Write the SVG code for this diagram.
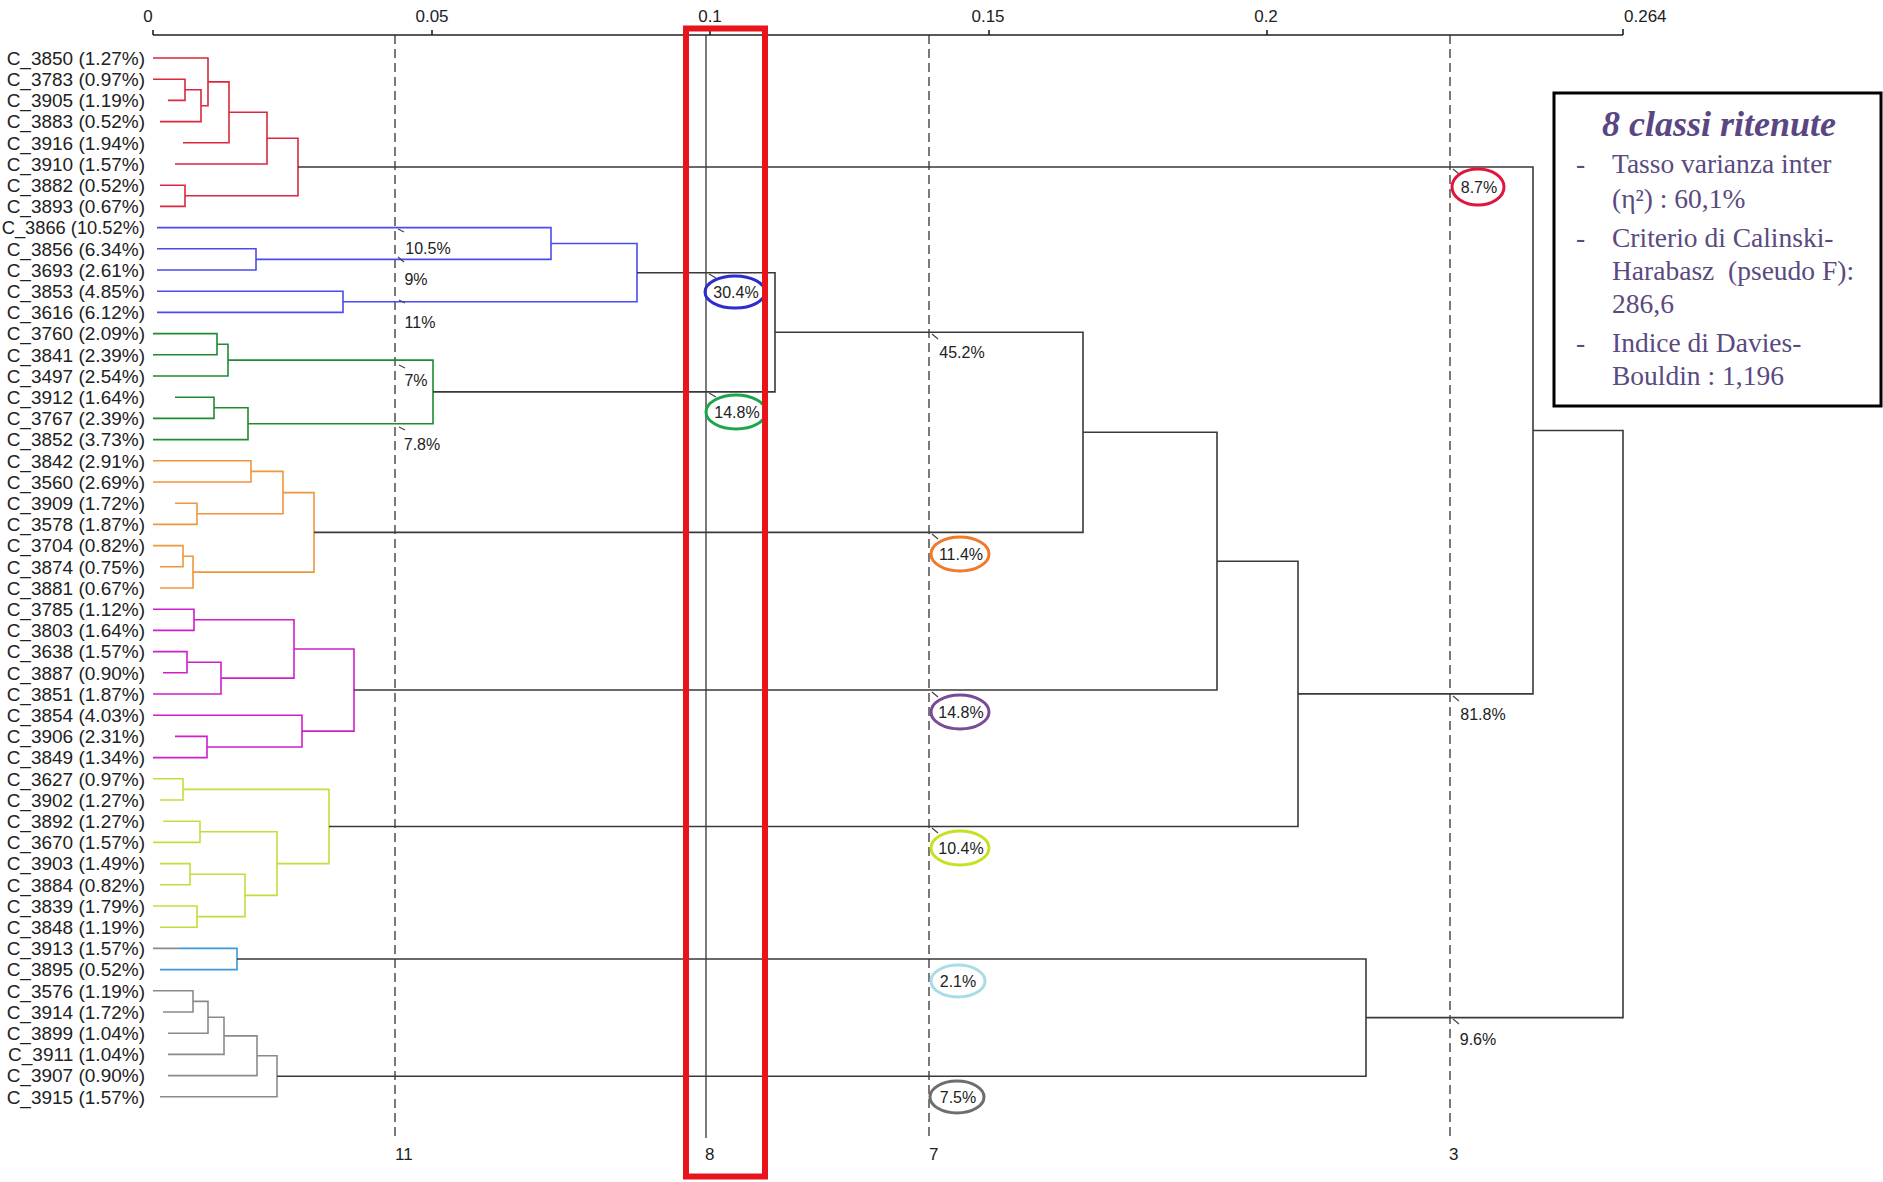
<svg xmlns="http://www.w3.org/2000/svg" width="1883" height="1182" viewBox="0 0 1883 1182">
<style>
.lbl{font-family:"Liberation Sans",Arial,sans-serif;font-size:19px;fill:#222;text-anchor:end}
.ax{font-family:"Liberation Sans",Arial,sans-serif;font-size:17px;fill:#222}
.pct{font-family:"Liberation Sans",Arial,sans-serif;font-size:16px;fill:#222;text-anchor:middle}
.t{fill:none;stroke-width:1.6;stroke-linejoin:miter}
.red{stroke:#d9283c}.blue{stroke:#4b4bf2}.green{stroke:#1f8a33}.orange{stroke:#f0963e}
.mag{stroke:#cf1fc9}.yg{stroke:#c6dc3c}.lb{stroke:#3c98d8}.gray{stroke:#8a8a8a}.blk{stroke:#3a3a3a}
.cut{stroke:#333;stroke-width:1.3;stroke-dasharray:9 5;fill:none}
.ptr{stroke:#444;stroke-width:1.2;fill:none}
.leg{font-family:"Liberation Serif","Times New Roman",serif;font-size:27.5px;fill:#5a4a80}
</style>
<rect width="1883" height="1182" fill="#fff"/>

<!-- axis -->
<g id="axis">
<path d="M153 35 H1623 M153 30 V35 M432 30 V35 M710 30 V35 M989 30 V35 M1267 30 V35 M1623 29 V35" stroke="#222" stroke-width="1.6" fill="none"/>
<text class="ax" x="148" y="22" text-anchor="middle">0</text>
<text class="ax" x="432" y="22" text-anchor="middle">0.05</text>
<text class="ax" x="710" y="22" text-anchor="middle">0.1</text>
<text class="ax" x="988" y="22" text-anchor="middle">0.15</text>
<text class="ax" x="1266" y="22" text-anchor="middle">0.2</text>
<text class="ax" x="1624" y="22">0.264</text>
</g>

<!-- cut lines -->
<g id="cuts">
<path class="cut" d="M395 35 V1140 M929 35 V1140 M1450 35 V1140"/>
<path d="M706 35 V1138" stroke="#333" stroke-width="1.3" fill="none"/>
<text class="ax" x="395" y="1160">11</text>
<text class="ax" x="705" y="1160">8</text>
<text class="ax" x="929" y="1160">7</text>
<text class="ax" x="1449" y="1160">3</text>
</g>

<!-- leaves -->
<g id="leaves">
<g id="n0"><text class="lbl" x="145" y="64.7">C_3850 (1.27%)</text></g>
<g id="n1"><text class="lbl" x="145" y="85.9">C_3783 (0.97%)</text></g>
<g id="n2"><text class="lbl" x="145" y="107.1">C_3905 (1.19%)</text></g>
<g id="n3"><text class="lbl" x="145" y="128.3">C_3883 (0.52%)</text></g>
<g id="n4"><text class="lbl" x="145" y="149.5">C_3916 (1.94%)</text></g>
<g id="n5"><text class="lbl" x="145" y="170.7">C_3910 (1.57%)</text></g>
<g id="n6"><text class="lbl" x="145" y="191.9">C_3882 (0.52%)</text></g>
<g id="n7"><text class="lbl" x="145" y="213.1">C_3893 (0.67%)</text></g>
<g id="n8"><text class="lbl" x="145" y="234.3" style="font-size:18.3px">C_3866 (10.52%)</text></g>
<g id="n9"><text class="lbl" x="145" y="255.5">C_3856 (6.34%)</text></g>
<g id="n10"><text class="lbl" x="145" y="276.7">C_3693 (2.61%)</text></g>
<g id="n11"><text class="lbl" x="145" y="297.9">C_3853 (4.85%)</text></g>
<g id="n12"><text class="lbl" x="145" y="319.1">C_3616 (6.12%)</text></g>
<g id="n13"><text class="lbl" x="145" y="340.3">C_3760 (2.09%)</text></g>
<g id="n14"><text class="lbl" x="145" y="361.5">C_3841 (2.39%)</text></g>
<g id="n15"><text class="lbl" x="145" y="382.7">C_3497 (2.54%)</text></g>
<g id="n16"><text class="lbl" x="145" y="403.9">C_3912 (1.64%)</text></g>
<g id="n17"><text class="lbl" x="145" y="425.1">C_3767 (2.39%)</text></g>
<g id="n18"><text class="lbl" x="145" y="446.3">C_3852 (3.73%)</text></g>
<g id="n19"><text class="lbl" x="145" y="467.5">C_3842 (2.91%)</text></g>
<g id="n20"><text class="lbl" x="145" y="488.7">C_3560 (2.69%)</text></g>
<g id="n21"><text class="lbl" x="145" y="509.9">C_3909 (1.72%)</text></g>
<g id="n22"><text class="lbl" x="145" y="531.1">C_3578 (1.87%)</text></g>
<g id="n23"><text class="lbl" x="145" y="552.3">C_3704 (0.82%)</text></g>
<g id="n24"><text class="lbl" x="145" y="573.5">C_3874 (0.75%)</text></g>
<g id="n25"><text class="lbl" x="145" y="594.7">C_3881 (0.67%)</text></g>
<g id="n26"><text class="lbl" x="145" y="615.9">C_3785 (1.12%)</text></g>
<g id="n27"><text class="lbl" x="145" y="637.1">C_3803 (1.64%)</text></g>
<g id="n28"><text class="lbl" x="145" y="658.3">C_3638 (1.57%)</text></g>
<g id="n29"><text class="lbl" x="145" y="679.5">C_3887 (0.90%)</text></g>
<g id="n30"><text class="lbl" x="145" y="700.7">C_3851 (1.87%)</text></g>
<g id="n31"><text class="lbl" x="145" y="721.9">C_3854 (4.03%)</text></g>
<g id="n32"><text class="lbl" x="145" y="743.1">C_3906 (2.31%)</text></g>
<g id="n33"><text class="lbl" x="145" y="764.3">C_3849 (1.34%)</text></g>
<g id="n34"><text class="lbl" x="145" y="785.5">C_3627 (0.97%)</text></g>
<g id="n35"><text class="lbl" x="145" y="806.7">C_3902 (1.27%)</text></g>
<g id="n36"><text class="lbl" x="145" y="827.9">C_3892 (1.27%)</text></g>
<g id="n37"><text class="lbl" x="145" y="849.1">C_3670 (1.57%)</text></g>
<g id="n38"><text class="lbl" x="145" y="870.3">C_3903 (1.49%)</text></g>
<g id="n39"><text class="lbl" x="145" y="891.5">C_3884 (0.82%)</text></g>
<g id="n40"><text class="lbl" x="145" y="912.7">C_3839 (1.79%)</text></g>
<g id="n41"><text class="lbl" x="145" y="933.9">C_3848 (1.19%)</text></g>
<g id="n42"><text class="lbl" x="145" y="955.1">C_3913 (1.57%)</text></g>
<g id="n43"><text class="lbl" x="145" y="976.3">C_3895 (0.52%)</text></g>
<g id="n44"><text class="lbl" x="145" y="997.5">C_3576 (1.19%)</text></g>
<g id="n45"><text class="lbl" x="145" y="1018.7">C_3914 (1.72%)</text></g>
<g id="n46"><text class="lbl" x="145" y="1039.9">C_3899 (1.04%)</text></g>
<g id="n47"><text class="lbl" x="145" y="1061.1">C_3911 (1.04%)</text></g>
<g id="n48"><text class="lbl" x="145" y="1082.3">C_3907 (0.90%)</text></g>
<g id="n49"><text class="lbl" x="145" y="1103.5">C_3915 (1.57%)</text></g>
</g>

<!-- connectors (dendrogram branches) -->
<g id="connectors">
<path class="t red" d="M153 58 H208 V105.7 H201 M153 79.2 H185 V100.4 H168 M185 89.8 H201 V121.6 H160 M208 81.9 H229 V142.8 H183 M229 112.3 H267 V164 H175 M160 185.2 H185 V206.4 H160 M267 138.2 H298 V195.8 H185"/>
<path class="t blue" d="M157 227.6 H551 V259.4 H256 M157 248.8 H256 V270 H157 M551 243.5 H637 V301.8 H343 M157 291.2 H343 V312.4 H157"/>
<path class="t green" d="M153 333.6 H217 V354.8 H153 M217 344.2 H228 V376 H153 M175 397.2 H214 V418.4 H153 M214 407.8 H248 V439.6 H153 M228 360.1 H433 V423.7 H248"/>
<path class="t orange" d="M153 460.8 H251 V482 H153 M175 503.2 H197 V524.4 H153 M251 471.4 H283 V513.8 H197 M153 545.6 H183 V566.8 H160 M183 556.2 H193 V588 H160 M283 492.6 H314 V572.1 H193"/>
<path class="t mag" d="M153 609.2 H194 V630.4 H153 M153 651.6 H187 V672.8 H163 M187 662.2 H221 V694 H153 M194 619.8 H294 V678.1 H221 M153 715.2 H302 V747 H207 M175 736.4 H207 V757.6 H153 M294 649 H354 V731.1 H302"/>
<path class="t yg" d="M153 778.8 H183 V800 H160 M163 821.2 H200 V842.4 H153 M160 863.6 H190 V884.8 H160 M153 906 H197 V927.2 H160 M190 874.2 H245 V916.6 H197 M200 831.8 H277 V895.4 H245 M183 789.4 H329 V863.6 H277"/>
<path class="t lb" d="M180 948.4 H237 V969.6 H160"/>
<path class="t gray" d="M153 948.4 H180 M153 990.8 H193 V1012 H163 M193 1001.4 H208 V1033.2 H168 M208 1017.3 H224 V1054.4 H168 M224 1035.9 H257 V1075.6 H168 M257 1055.7 H277 V1096.8 H160"/>
<path class="t blk" d="M298 167 H1533 V693.9 H1298 M637 272.7 H775 V391.9 H433 M775 332.3 H1083 V532.4 H314 M1083 432.3 H1217 V690 H354 M1217 561.2 H1298 V826.5 H329 M237 959 H1366 V1076.3 H277 M1533 430.5 H1623 V1017.6 H1366"/>
</g>

<!-- cut labels -->
<g id="cut-labels">
<path class="ptr" d="M398 229 L404 232 M398 257 L404 262 M399 300 L405 303 M399 365 L405 368 M399 427 L405 430 M709 274 L716 278 M709 393 L716 397 M932 334 L938 339 M932 534 L938 539 M932 692 L938 697 M932 828 L938 833 M1453 169 L1459 174 M1453 696 L1459 701 M1453 1019 L1459 1024"/>
<text class="pct" x="428" y="254">10.5%</text>
<text class="pct" x="416" y="285">9%</text>
<text class="pct" x="420" y="328">11%</text>
<text class="pct" x="416" y="386">7%</text>
<text class="pct" x="422" y="450">7.8%</text>
<ellipse cx="735" cy="292" rx="30" ry="16" fill="none" stroke="#2c2cd0" stroke-width="3"/>
<text class="pct" x="736" y="298">30.4%</text>
<ellipse cx="736" cy="412" rx="30" ry="17" fill="none" stroke="#1aa64a" stroke-width="3"/>
<text class="pct" x="737" y="418">14.8%</text>
<text class="pct" x="962" y="358">45.2%</text>
<ellipse cx="960" cy="554" rx="29" ry="17" fill="none" stroke="#f07a28" stroke-width="3"/>
<text class="pct" x="961" y="560">11.4%</text>
<ellipse cx="960" cy="712" rx="29" ry="17" fill="none" stroke="#7a4a92" stroke-width="3"/>
<text class="pct" x="961" y="718">14.8%</text>
<ellipse cx="960" cy="848" rx="29" ry="17" fill="none" stroke="#c8e020" stroke-width="3"/>
<text class="pct" x="961" y="854">10.4%</text>
<ellipse cx="958" cy="981" rx="27" ry="16" fill="none" stroke="#a9dde6" stroke-width="3"/>
<text class="pct" x="958" y="987">2.1%</text>
<ellipse cx="957" cy="1097" rx="27" ry="16" fill="none" stroke="#6e6e6e" stroke-width="3"/>
<text class="pct" x="958" y="1103">7.5%</text>
<ellipse cx="1478" cy="187" rx="26" ry="18" fill="none" stroke="#e0143c" stroke-width="3"/>
<text class="pct" x="1479" y="193">8.7%</text>
<text class="pct" x="1483" y="720">81.8%</text>
<text class="pct" x="1478" y="1045">9.6%</text>
</g>

<!-- selected cut box -->
<rect id="selection" x="686" y="28.5" width="79" height="1148" fill="none" stroke="#e8141c" stroke-width="6"/>

<!-- legend -->
<g id="legend">
<rect x="1554" y="93" width="327" height="313" fill="#fff" stroke="#000" stroke-width="3"/>
<text x="1719" y="136" text-anchor="middle" font-family="'Liberation Serif','Times New Roman',serif" font-size="36" font-weight="bold" font-style="italic" fill="#5a4682">8 classi ritenute</text>
<text class="leg" x="1576" y="173">-</text>
<text class="leg" x="1612" y="173">Tasso varianza inter</text>
<text class="leg" x="1612" y="208">(η²) : 60,1%</text>
<text class="leg" x="1576" y="247">-</text>
<text class="leg" x="1612" y="247">Criterio di Calinski-</text>
<text class="leg" x="1612" y="280" xml:space="preserve">Harabasz  (pseudo F):</text>
<text class="leg" x="1612" y="313">286,6</text>
<text class="leg" x="1576" y="352">-</text>
<text class="leg" x="1612" y="352">Indice di Davies-</text>
<text class="leg" x="1612" y="385">Bouldin : 1,196</text>
</g>
</svg>
